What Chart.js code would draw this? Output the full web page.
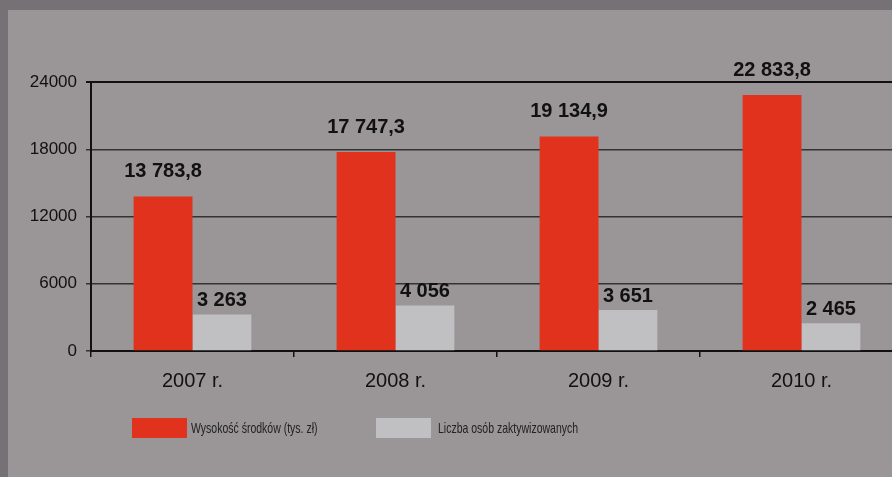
<!DOCTYPE html>
<html>
<head>
<meta charset="utf-8">
<script src="https://cdn.jsdelivr.net/npm/chart.js@4/dist/chart.umd.min.js"></script>
<style>
  html, body { margin: 0; padding: 0; width: 892px; height: 477px; overflow: hidden; background: #767174; }
  #panel { position: absolute; left: 8px; top: 10px; right: 0; bottom: 0; background: #9a9597; }
  #wrap { position: absolute; left: 0; top: 0; width: 906px; height: 477px; }
</style>
</head>
<body>
<div id="panel"></div>
<div id="wrap"><canvas id="chart" width="906" height="477"></canvas></div>
<script>
// Chart data
const years = ["2007 r.", "2008 r.", "2009 r.", "2010 r."];
const funds = [13783.8, 17747.3, 19134.9, 22833.8];
const people = [3263, 4056, 3651, 2465];
const seriesNames = ["Wysokość środków (tys. zł)", "Liczba osób zaktywizowanych"];
const yTicks = [0, 6000, 12000, 18000, 24000];

const RED = "#e0321d";
const GREY = "#c0bfc1";

/**
 * Format number Polish style: space thousands, comma decimals
 */
function formatValue(v, decimals) {
  const parts = v.toFixed(decimals).split(".");
  const intPart = parts[0].replace(/\B(?=(\d{3})+(?!\d))/g, " ");
  return parts.length > 1 ? intPart + "," + parts[1] : intPart;
}

// Draw value labels above bars
const valueLabels = {
  id: "valueLabels",
  afterDatasetsDraw(chart) {
    const ctx = chart.ctx;
    ctx.save();
    ctx.font = "bold 20px 'Liberation Sans', Arial, sans-serif";
    ctx.fillStyle = "#111";
    ctx.textAlign = "center";
    ctx.textBaseline = "middle";
    chart.data.datasets.forEach((ds, di) => {
      const meta = chart.getDatasetMeta(di);
      meta.data.forEach((bar, i) => {
        const offset = di === 0 ? 25 : 14;
        const text = formatValue(ds.data[i], di === 0 ? 1 : 0);
        ctx.fillText(text, bar.x, bar.y - offset);
      });
    });
    ctx.restore();
  },
};

// Custom legend below the chart (condensed text)
const customLegend = {
  id: "customLegend",
  afterDraw(chart) {
    const ctx = chart.ctx;
    const items = [
      { box: 132, text: 191 },
      { box: 376, text: 438 },
    ];
    ctx.save();
    ctx.font = "15px 'Liberation Sans', Arial, sans-serif";
    ctx.textBaseline = "middle";
    ctx.textAlign = "left";
    chart.data.datasets.forEach((ds, i) => {
      ctx.fillStyle = ds.backgroundColor;
      ctx.fillRect(items[i].box, 418, 55, 20);
      ctx.save();
      ctx.translate(items[i].text, 429);
      ctx.scale(0.7, 1);
      ctx.fillStyle = "#222";
      ctx.fillText(ds.label, 0, 0);
      ctx.restore();
    });
    ctx.restore();
  },
};

const ctx = document.getElementById("chart");
new Chart(ctx, {
  type: "bar",
  data: {
    labels: years,
    datasets: [
      {
        label: seriesNames[0],
        data: funds,
        backgroundColor: RED,
        categoryPercentage: 0.58,
        barPercentage: 1.0,
      },
      {
        label: seriesNames[1],
        data: people,
        backgroundColor: GREY,
        categoryPercentage: 0.58,
        barPercentage: 1.0,
      },
    ],
  },
  options: {
    responsive: false,
    animation: false,
    layout: {
      padding: { top: 82, right: 3, bottom: 0, left: 0 },
    },
    plugins: {
      legend: { display: false },
      tooltip: { enabled: false },
    },
    scales: {
      x: {
        afterFit(scale) {
          scale.height = 126;
        },
        border: { color: "#111", width: 2 },
        grid: {
          offset: true,
          drawOnChartArea: false,
          color: "#111",
          tickLength: 6,
          lineWidth: 1.5,
        },
        ticks: {
          color: "#111",
          padding: 12,
          font: { family: "'Liberation Sans', Arial, sans-serif", size: 20 },
        },
      },
      y: {
        min: 0,
        max: 24000,
        afterFit(scale) {
          scale.width = 91;
        },
        afterBuildTicks(scale) {
          scale.ticks = yTicks.map((v) => ({ value: v }));
        },
        border: { color: "#111", width: 2 },
        grid: {
          color: (c) => (c.tick && c.tick.value === 24000 ? "#111" : "#333"),
          lineWidth: (c) => (c.tick && c.tick.value === 24000 ? 2 : 1.5),
          tickLength: 5,
        },
        ticks: {
          color: "#111",
          padding: 9,
          font: { family: "'Liberation Sans', Arial, sans-serif", size: 17 },
          callback: (v) => String(v),
        },
      },
    },
  },
  plugins: [valueLabels, customLegend],
});
</script>
</body>
</html>
